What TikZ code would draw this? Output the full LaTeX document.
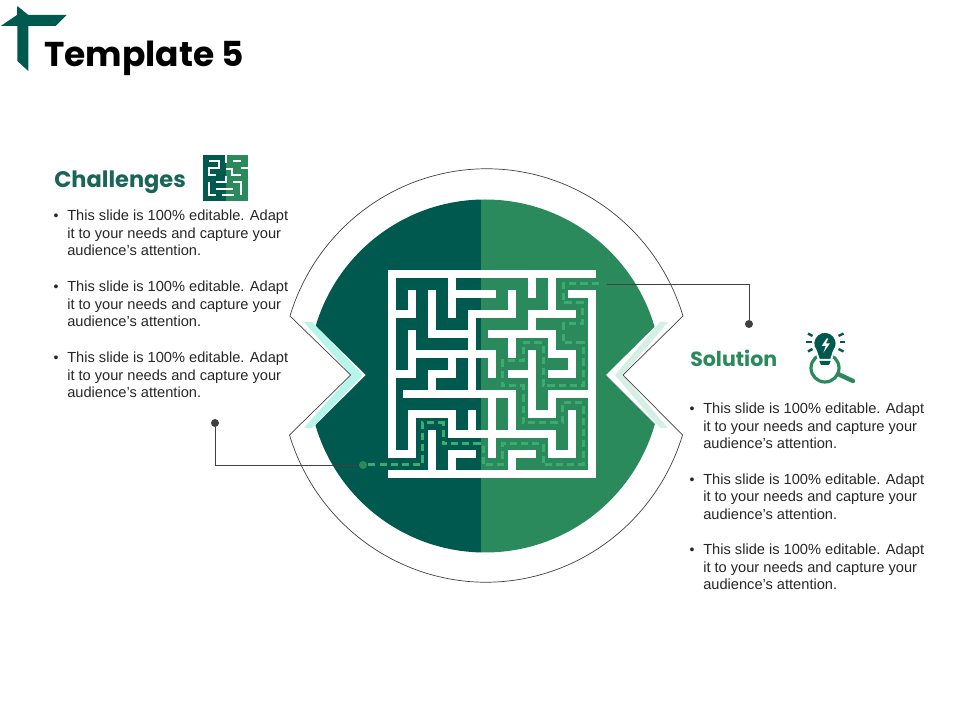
\documentclass[tikz,border=0pt]{standalone}
\usepackage{fontspec}
\setmainfont{Liberation Sans}
\newfontfamily\headfont{Poppins}
\definecolor{tealdark}{HTML}{00594F}
\definecolor{leafgreen}{HTML}{2A8A5C}
\definecolor{trailgreen}{HTML}{3DAA70}
\definecolor{headteal}{HTML}{1A6459}
\definecolor{leadgray}{HTML}{404040}
\definecolor{palecyan}{HTML}{B5F5EA}
\definecolor{palegreen}{HTML}{D5EFE5}
\tikzset{
  mazewall/.style={draw=white,line width=.2cm,line cap=rect,line join=miter},
  trail/.style={draw=trailgreen,line width=.075cm,dash pattern=on .18cm off .1cm},
  blurb/.style={anchor=west,align=left,inner sep=0pt,text=black!85,font=\fontsize{10.4}{12.55}\selectfont},
  tick/.style={anchor=center,inner sep=0pt,text=black!85,font=\fontsize{10}{12}\selectfont},
  headline/.style={anchor=base west,inner sep=0pt,font=\headfont\bfseries\fontsize{16}{18}\selectfont},
  dot/.style={circle,fill=#1,inner sep=0pt,minimum size=.2cm},
  leader/.style={draw=leadgray,line width=.5pt},
  ray/.style={draw=tealdark,line width=.06cm},
  iconcut/.style={draw=white,line width=.07cm}
}
\newcommand{\blurbtext}{This slide is 100\% editable. Adapt\\it to your needs and capture your\\audience's attention.}
\begin{document}
\begin{tikzpicture}[x=.025cm,y=-.025cm]
  \useasboundingbox (0,0) rectangle (960,720);
  % logo and title
  \fill[tealdark] (.7,26) -- (17,15) -- (17.3,6) -- (28.3,15) -- (66.7,15) -- (55.7,26) -- (28.3,26) -- (28.3,71) -- (17.3,61) -- (17.3,26) -- cycle;
  \node[headline,text=black,font=\headfont\bfseries\fontsize{24.5}{26}\selectfont] (title) at (44,67) {Template 5};

  % disc, split in two
  \begin{scope}
    \clip (0,0) rectangle (481,720);
    \fill[tealdark] (485,376) circle (176.5);
  \end{scope}
  \begin{scope}
    \clip (481,0) rectangle (960,720);
    \fill[leafgreen] (485,376) circle (176.5);
  \end{scope}
  \fill[white] (285,296) -- (365.7,375) -- (285,455) -- cycle;
  \fill[white] (690,292) -- (606,375) -- (690,459) -- cycle;

  % pale chevrons
  \fill[palecyan] (304,322) -- (351,375) -- (304,428) -- (312,428) -- (362.7,375) -- (312,322) -- cycle;
  \fill[palegreen] (668,322) -- (623,375) -- (668,428) -- (660,428) -- (615,375) -- (660,322) -- cycle;

  % outline
  \draw[leader] (683,316) arc[start angle=-17,end angle=-163,x radius=205.5,y radius=208] -- (350.7,375) -- (289.5,435) arc[start angle=163,end angle=17,x radius=205.5,y radius=208] -- (623,375) -- cycle;

  % maze, in cells
  \begin{scope}[shift={(391.5,274.5)},x=.50125cm,y=-.4975cm]
    \draw[mazewall] (0,9) -- (0,0) -- (10,0);
    \draw[mazewall] (10,1) -- (10,10) -- (0,10);
    \draw[mazewall] (3,0) -- (3,2);
    \draw[mazewall] (3,1) -- (5,1);
    \draw[mazewall] (1,1) -- (1,2) -- (0,2);
    \draw[mazewall] (2,1) -- (2,3) -- (4,3);
    \draw[mazewall] (6,1) -- (6,2) -- (4,2) -- (4,6);
    \draw[mazewall] (1,3) -- (1,5) -- (0,5);
    \draw[mazewall] (1,4) -- (5,4) -- (5,5);
    \draw[mazewall] (3,4) -- (3,5) -- (2,5) -- (2,6);
    \draw[mazewall] (.76,6) -- (5,6) -- (5,9);
    \draw[mazewall] (0,9) -- (1,9) -- (1,7) -- (3,7) -- (3,8) -- (8,8) -- (8,9) -- (9,9) -- (9,7);
    \draw[mazewall] (4,7) -- (4,8);
    \draw[mazewall] (2,8) -- (2,10);
    \draw[mazewall] (4,9) -- (3,9) -- (3,10);
    \draw[mazewall] (7,0) -- (7,1);
    \draw[mazewall] (8,0) -- (8,2);
    \draw[mazewall] (9,1) -- (10,1);
    \draw[mazewall] (9,2) -- (7,2) -- (7,3);
    \draw[mazewall] (5,3) -- (8,3) -- (8,4) -- (9,4) -- (9,5) -- (8,5);
    \draw[mazewall] (6,3) -- (6,4);
    \draw[mazewall] (7,4) -- (7,7) -- (8,7) -- (8,6) -- (10,6);
    \draw[mazewall] (6,5) -- (7,5);
    \draw[mazewall] (5,6) -- (6,6) -- (6,8);
    \draw[mazewall] (6,10) -- (6,9) -- (7,9);
  \end{scope}

  % the way through
  \node[dot=leafgreen] (exitDot) at (603,284) {};
  \node[dot=leafgreen] (entryDot) at (363,465) {};
  \draw[trail] (exitDot) -- (563,284) -- (563,303) -- (582,303) -- (582,324) -- (563,324) -- (563,343) -- (583,343) -- (583,386) -- (543,386) -- (543,343) -- (523,343) -- (523,361) -- (502,361) -- (502,386) -- (523,386) -- (523,423) -- (562,423) -- (562,403) -- (583,403) -- (583,465) -- (543,465) -- (543,444) -- (502,444) -- (502,465) -- (483,465) -- (483,444) -- (443,444) -- (443,423) -- (422,423) -- (422,465) -- (entryDot);

  % leaders
  \node[dot=leadgray] (chalDot) at (215,423) {};
  \node[dot=leadgray] (solDot) at (749,324) {};
  \draw[leader] (chalDot) |- (entryDot);
  \draw[leader] (exitDot) -| (solDot);

  % left column
  \node[headline,text=headteal] (chalHead) at (54,188) {Challenges};
  \fill[tealdark] (203,155) rectangle (225.5,201);
  \fill[leafgreen] (225.5,155) rectangle (248,201);
  \draw[iconcut] (209,161) -- (219,161) -- (219,168) -- (209,168) -- (209,175) -- (216,175);
  \draw[iconcut] (226,155) -- (226,163);
  \draw[iconcut] (233,161) -- (241,161);
  \draw[iconcut] (226,169) -- (232,169) -- (232,175) -- (241,175);
  \draw[iconcut] (241,168) -- (248,168);
  \draw[iconcut] (216,182) -- (226,182) -- (226,176);
  \draw[iconcut] (209,182) -- (209,195) -- (216,195);
  \draw[iconcut] (216,189) -- (233,189);
  \draw[iconcut] (233,182) -- (241,182) -- (241,195);
  \draw[iconcut] (222,195) -- (234,195);
  \node[tick] (chalTickA) at (56,217.5) {•};
  \node[blurb] (chalA) at (67,233) {\blurbtext};
  \node[tick] (chalTickB) at (56,288.5) {•};
  \node[blurb] (chalB) at (67,304) {\blurbtext};
  \node[tick] (chalTickC) at (56,359.5) {•};
  \node[blurb] (chalC) at (67,375) {\blurbtext};

  % right column
  \node[headline,text=leafgreen,font=\headfont\bfseries\fontsize{14.6}{18}\selectfont] (solHead) at (690,367) {Solution};
  \draw[leafgreen,line width=.08cm] (825,368) circle (14);
  \draw[leafgreen,line width=.11cm,line cap=round] (838,374) -- (853,381);
  \fill[tealdark,draw=white,line width=.05cm] (816,351) arc[start angle=140,end angle=400,radius=11.7] -- (831,360) -- (819,360) -- cycle;
  \fill[tealdark] (819.3,361) -- (830.7,361) -- (829,365) -- (821,365) -- cycle;
  \fill[white] (826.7,338.3) -- (821.7,346) -- (825.7,346) -- (823.3,352.7) -- (830,343.3) -- (826,343.3) -- (828.3,338.3) -- cycle;
  \draw[ray] (808,333.5) -- (812.5,336);
  \draw[ray] (806,342) -- (811.5,342);
  \draw[ray] (808,351.5) -- (812.5,349);
  \draw[ray] (843.5,333.5) -- (838.5,336);
  \draw[ray] (845,342) -- (840,342);
  \draw[ray] (843.5,351.5) -- (838.5,349);
  \node[tick] (solTickA) at (692,410.5) {•};
  \node[blurb] (solA) at (703,426) {\blurbtext};
  \node[tick] (solTickB) at (692,481.5) {•};
  \node[blurb] (solB) at (703,496.5) {\blurbtext};
  \node[tick] (solTickC) at (692,551.5) {•};
  \node[blurb] (solC) at (703,567) {\blurbtext};
\end{tikzpicture}
\end{document}
